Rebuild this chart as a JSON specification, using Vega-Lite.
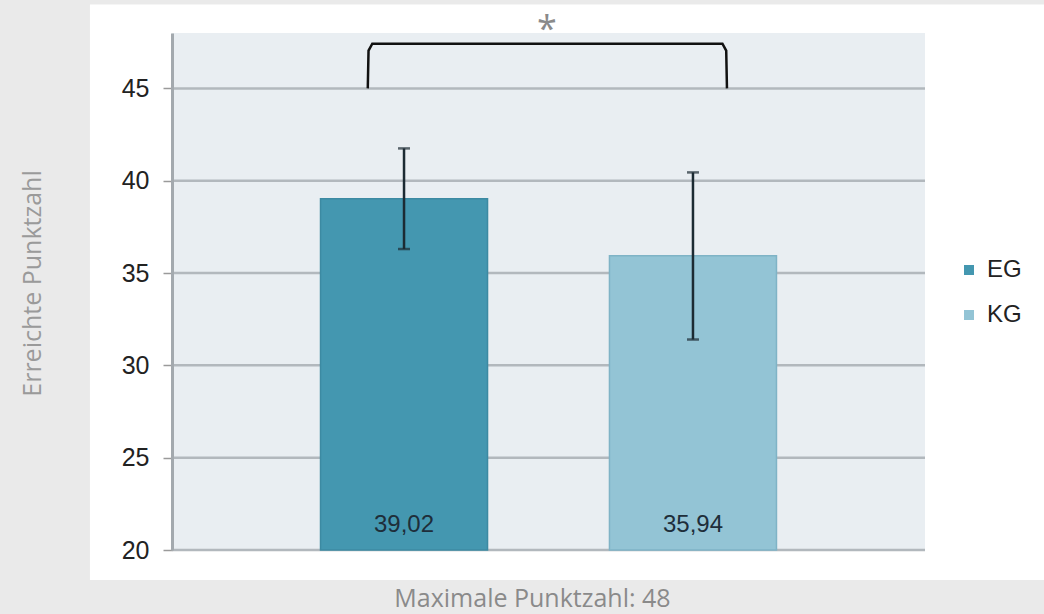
{
  "$schema": "https://vega.github.io/schema/vega-lite/v6.json",
  "autosize": {"type": "none"},
  "width": 753,
  "height": 517,
  "padding": {"left": 172, "top": 33, "right": 119, "bottom": 64},
  "background": "#EAEAEA",
  "config": {
    "view": {"stroke": null},
    "axisY": {
      "tickCount": 6,
      "grid": false,
      "labelFont": "Liberation Sans",
      "labelFontSize": 25,
      "labelColor": "#222222",
      "labelPadding": 14,
      "tickSize": 9,
      "tickColor": "#9A9A9A",
      "tickWidth": 1.5,
      "domainColor": "#A3A9AE",
      "domainWidth": 3,
      "titleFont": "Open Sans",
      "titleFontSize": 25,
      "titleFontWeight": "normal",
      "titleColor": "#9A9A9A",
      "titlePadding": 76,
      "titleY": 250
    },
    "axisX": {
      "labels": false,
      "ticks": false,
      "domain": false,
      "grid": false,
      "titleFont": "Open Sans",
      "titleFontSize": 25,
      "titleFontWeight": "normal",
      "titleColor": "#8A8A8A",
      "titlePadding": 36,
      "titleX": 360
    }
  },
  "datasets": {
    "frame": [
      {"part": "white", "x0": -10.9, "x1": 125, "y0": 18.37, "y1": 49.55},
      {"part": "panel", "x0": 0, "x1": 100, "y0": 20, "y1": 48}
    ],
    "grid": [{"v": 20}, {"v": 25}, {"v": 30}, {"v": 35}, {"v": 40}, {"v": 45}],
    "bars": [
      {"group": "EG", "mean": 39.02, "lo": 36.3, "hi": 41.75, "label": "39,02"},
      {"group": "KG", "mean": 35.94, "lo": 31.4, "hi": 40.45, "label": "35,94"}
    ],
    "bracket": [
      {"i": 0, "px": 26.0, "py": 45},
      {"i": 1, "px": 26.1, "py": 47.05},
      {"i": 2, "px": 26.6, "py": 47.42},
      {"i": 3, "px": 73.1, "py": 47.42},
      {"i": 4, "px": 73.6, "py": 47.05},
      {"i": 5, "px": 73.7, "py": 45}
    ],
    "star": [{"px": 49.8, "py": 48.6, "t": "*"}]
  },
  "resolve": {"scale": {"x": "independent"}},
  "layer": [
    {
      "data": {"name": "frame"},
      "mark": {"type": "rect", "clip": false},
      "encoding": {
        "x": {"field": "x0", "type": "quantitative", "scale": {"domain": [0, 100]}, "axis": null},
        "x2": {"field": "x1"},
        "y": {"field": "y0", "type": "quantitative", "scale": {"domain": [20, 48], "nice": false, "zero": false}, "title": "Erreichte Punktzahl", "axis": {"zindex": 1}},
        "y2": {"field": "y1"},
        "fill": {"field": "part", "type": "nominal", "scale": {"domain": ["white", "panel"], "range": ["#FFFFFF", "#E9EEF2"]}, "legend": null}
      }
    },
    {
      "data": {"name": "grid"},
      "mark": {"type": "rule", "color": "#B2B8BD", "strokeWidth": 2.5},
      "encoding": {
        "y": {"field": "v", "type": "quantitative", "title": "Erreichte Punktzahl", "axis": {"zindex": 1}}
      }
    },
    {
      "data": {"name": "bars"},
      "layer": [
        {
          "mark": {"type": "bar", "strokeWidth": 1.5},
          "encoding": {
            "x": {"field": "group", "type": "nominal", "scale": {"paddingInner": 0.422, "paddingOuter": 0.514}, "title": "Maximale Punktzahl: 48", "axis": {"zindex": 1}},
            "y": {"field": "mean", "type": "quantitative", "title": "Erreichte Punktzahl", "axis": {"zindex": 1}},
            "y2": {"datum": 20},
            "color": {
              "field": "group", "type": "nominal",
              "scale": {"domain": ["EG", "KG"], "range": ["#4497B0", "#93C4D5"]},
              "legend": {
                "title": null,
                "orient": "none",
                "legendX": 785,
                "legendY": 225,
                "padding": 0,
                "symbolType": "square",
                "symbolSize": 100,
                "symbolStrokeWidth": 0,
                "labelFont": "Liberation Sans",
                "labelFontSize": 24,
                "labelColor": "#222222",
                "labelOffset": 6,
                "rowPadding": 21
              }
            },
            "stroke": {"field": "group", "type": "nominal", "scale": {"domain": ["EG", "KG"], "range": ["#3C8AA2", "#7FB3C6"]}, "legend": null}
          }
        },
        {
          "mark": {"type": "rule", "color": "#1C2B33", "strokeWidth": 2.5},
          "encoding": {
            "x": {"field": "group", "type": "nominal", "title": "Maximale Punktzahl: 48", "axis": {"zindex": 1}},
            "y": {"field": "lo", "type": "quantitative", "title": "Erreichte Punktzahl", "axis": {"zindex": 1}},
            "y2": {"field": "hi"}
          }
        },
        {
          "mark": {"type": "tick", "color": "#1C2B33", "size": 12, "thickness": 2.5, "orient": "horizontal"},
          "encoding": {
            "x": {"field": "group", "type": "nominal", "title": "Maximale Punktzahl: 48", "axis": {"zindex": 1}},
            "y": {"field": "lo", "type": "quantitative", "title": "Erreichte Punktzahl", "axis": {"zindex": 1}}
          }
        },
        {
          "mark": {"type": "tick", "color": "#1C2B33", "size": 12, "thickness": 2.5, "orient": "horizontal"},
          "encoding": {
            "x": {"field": "group", "type": "nominal", "title": "Maximale Punktzahl: 48", "axis": {"zindex": 1}},
            "y": {"field": "hi", "type": "quantitative", "title": "Erreichte Punktzahl", "axis": {"zindex": 1}}
          }
        },
        {
          "mark": {"type": "text", "font": "Liberation Sans", "fontSize": 24, "color": "#1E2E3A", "baseline": "middle"},
          "encoding": {
            "x": {"field": "group", "type": "nominal", "title": "Maximale Punktzahl: 48", "axis": {"zindex": 1}},
            "y": {"datum": 21.35, "type": "quantitative", "title": "Erreichte Punktzahl", "axis": {"zindex": 1}},
            "text": {"field": "label"}
          }
        }
      ]
    },
    {
      "data": {"name": "bracket"},
      "mark": {"type": "line", "color": "#111111", "strokeWidth": 2.5, "clip": false},
      "encoding": {
        "x": {"field": "px", "type": "quantitative", "scale": {"domain": [0, 100]}, "axis": null},
        "y": {"field": "py", "type": "quantitative", "title": "Erreichte Punktzahl", "axis": {"zindex": 1}},
        "order": {"field": "i"}
      }
    },
    {
      "data": {"name": "star"},
      "mark": {"type": "text", "font": "Open Sans", "fontSize": 36, "color": "#8A8A8A", "baseline": "middle", "align": "center", "dy": 8},
      "encoding": {
        "x": {"field": "px", "type": "quantitative", "scale": {"domain": [0, 100]}, "axis": null},
        "y": {"field": "py", "type": "quantitative", "title": "Erreichte Punktzahl", "axis": {"zindex": 1}},
        "text": {"field": "t"}
      }
    }
  ]
}
